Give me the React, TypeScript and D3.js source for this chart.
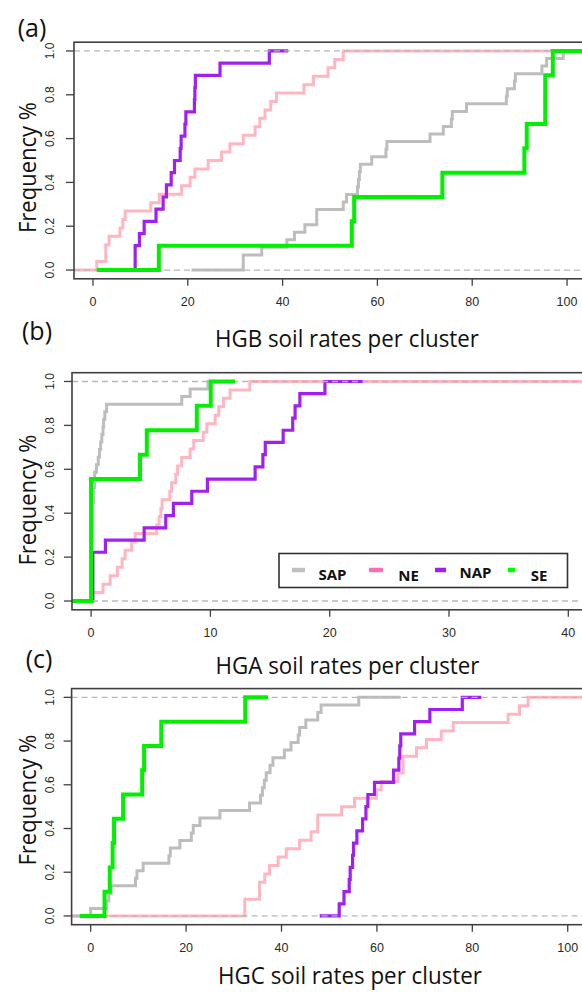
import * as d3 from "d3";

// cluster names, in legend order
const groups = ["SAP", "NE", "NAP", "SE"];

// (a) HGB soil rates per cluster: sample values behind each ECDF
const hgbSAP = [31.7, 31.7, 35.6, 40.9, 42.5, 44.7, 47.2, 47.2, 52.8, 53.5, 55.8, 56.0, 56.2, 56.4, 58.8, 61.8, 62.0, 71.1, 73.9, 75.6, 75.8, 78.8, 87.2, 87.4, 88.9, 89.1, 94.7, 95.7, 99.2];
const hgbNE = [0.8, 2.7, 2.7, 3.4, 5.7, 6.3, 6.8, 12.2, 14.0, 18.7, 20.5, 21.5, 24.3, 27.1, 28.9, 31.7, 34.2, 35.2, 36.3, 37.5, 38.7, 44.5, 46.5, 49.6, 51.0, 52.8];
const hgbNAP = [8.9, 8.9, 9.8, 10.8, 13.3, 14.8, 15.5, 16.5, 17.2, 18.4, 18.6, 19.4, 19.6, 21.4, 21.5, 21.6, 26.8, 37.2];
const hgbSE = [13.9, 54.6, 55.1, 73.7, 91.0, 91.5, 95.4, 95.4, 97.0];
// where each step line starts and stops [lo, hi]
const hgbSpan = [[20.8, 110], [-6, 110], [5, 41.2], [0.8, 110]];

// (b) HGA soil rates per cluster
const hgaSAP = [0, 0, 0, 0, 0, 0, 0, 0, 0.1, 0.1, 0.1, 0.1, 0.1, 0.2, 0.2, 0.3, 0.3, 0.45, 0.6, 0.7, 0.8, 0.9, 1.0, 1.05, 1.15, 1.3, 7.6, 8.3, 9.8];
const hgaNE = [0.1, 1.0, 1.6, 2.2, 2.6, 2.85, 3.4, 3.7, 5.5, 5.7, 5.85, 5.95, 6.6, 6.75, 7.1, 7.25, 7.6, 8.3, 8.6, 9.4, 9.7, 10.4, 10.7, 11.1, 11.65, 13.3];
const hgaNAP = [0.15, 0.15, 0.15, 0.15, 1.2, 4.45, 6.26, 6.9, 8.44, 9.75, 13.75, 14.4, 14.6, 16.1, 16.9, 17.1, 17.5, 19.6];
const hgaSE = [0, 0, 0, 0, 0, 4.1, 4.67, 8.86, 10.03];
const hgaSpan = [[-2, 12], [-2, 50], [-1, 22.8], [-2, 12.07]];

// (c) HGC soil rates per cluster
const hgcSAP = [0.0, 3.3, 3.8, 4.3, 9.4, 9.7, 11.0, 16.4, 16.7, 18.7, 21.1, 21.5, 22.9, 27.1, 33.3, 35.6, 36.0, 36.4, 36.8, 37.6, 38.2, 40.6, 42.0, 43.5, 43.8, 45.1, 47.6, 48.3, 56.2];
const hgcNE = [32.3, 32.3, 35.4, 35.4, 36.5, 37.5, 39.3, 41.0, 43.8, 46.2, 47.6, 47.6, 52.6, 55.3, 59.9, 60.9, 64.4, 65.5, 65.5, 68.3, 70.4, 73.5, 76.0, 87.5, 89.9, 91.7];
const hgcNAP = [52.1, 53.1, 54.2, 54.4, 54.9, 55.1, 55.8, 57.0, 57.7, 58.1, 59.5, 63.5, 64.6, 64.8, 65.0, 67.9, 71.1, 77.9];
const hgcSE = [2.9, 4.0, 4.6, 4.9, 6.8, 10.8, 11.2, 14.8, 32.4];
const hgcSpan = [[-6, 65], [-6, 110], [48, 81.9], [-2.3, 37.2]];

const ticks100 = [0, 20, 40, 60, 80, 100];
const ticks40 = [0, 10, 20, 30, 40];
const yTicks = [0, 0.2, 0.4, 0.6, 0.8, 1.0];

const lineColors = ["#bdbdbd", "#ffb6c1", "#a020f0", "#00f000"];
const legendColors = ["#c0c0c0", "#ff6eb4", "#a020f0", "#00ff00"];
const lineWidths = [3, 3, 3.2, 4];
// drawing order: NE, SAP, NAP, then the 0/1 guides, then SE on top
const drawOrder = [1, 0, 2];

const labelFont = "'Open Sans', 'Noto Sans', sans-serif";
const tickFont = "'Liberation Sans', Arial, sans-serif";

function ecdfPoints(sample: number[], span: number[]): [number, number][] {
  const xs = [...sample].sort(d3.ascending);
  const knots = Array.from(new Set(xs));
  const pts: [number, number][] = [[span[0], 0]];
  knots.forEach((k) => pts.push([k, d3.bisectRight(xs, k) / xs.length]));
  pts.push([span[1], 1]);
  return pts;
}

type PanelProps = {
  id: string;
  letter: string;
  xlabel: string;
  xmax: number;
  xticks: number[];
  series: number[][];
  spans: number[][];
  left: number;
  right: number;
  top: number;
  bottom: number;
  letterPos: [number, number];
  xlabelPos: [number, number];
  ylabelY: number;
};

function Panel(p: PanelProps) {
  const x = d3.scaleLinear().domain([-0.04 * p.xmax, 1.04 * p.xmax]).range([p.left, p.right]);
  const y = d3.scaleLinear().domain([-0.04, 1.04]).range([p.bottom, p.top]);
  const line = d3
    .line<[number, number]>()
    .x((d) => x(d[0]))
    .y((d) => y(d[1]))
    .curve(d3.curveStepAfter);

  const path = (i: number) => (
    <path
      key={i}
      d={line(ecdfPoints(p.series[i], p.spans[i])) ?? ""}
      fill="none"
      stroke={lineColors[i]}
      strokeWidth={lineWidths[i]}
      strokeLinejoin="miter"
    />
  );

  return (
    <g>
      <defs>
        <clipPath id={p.id}>
          <rect x={p.left} y={p.top} width={p.right - p.left} height={p.bottom - p.top} />
        </clipPath>
      </defs>
      <g clipPath={`url(#${p.id})`}>
        {drawOrder.map(path)}
        {[0, 1].map((v) => (
          <line
            key={v}
            x1={p.left}
            x2={p.right}
            y1={y(v)}
            y2={y(v)}
            stroke="#b8b8b8"
            strokeWidth={1.3}
            strokeDasharray="6,4"
          />
        ))}
        {path(3)}
      </g>
      <rect
        x={p.left}
        y={p.top}
        width={p.right - p.left}
        height={p.bottom - p.top}
        fill="none"
        stroke="#404040"
        strokeWidth={1.6}
      />
      {p.xticks.map((t) => (
        <g key={t}>
          <line x1={x(t)} x2={x(t)} y1={p.bottom} y2={p.bottom + 7} stroke="#404040" strokeWidth={1.3} />
          <text
            x={x(t)}
            y={p.bottom + 23}
            textAnchor="middle"
            dominantBaseline="central"
            fontFamily={tickFont}
            fontSize={12.5}
            fill="#2a2a2a"
          >
            {t}
          </text>
        </g>
      ))}
      {yTicks.map((t) => (
        <g key={t}>
          <line x1={p.left - 8} x2={p.left} y1={y(t)} y2={y(t)} stroke="#404040" strokeWidth={1.3} />
          <text
            transform={`translate(50,${y(t)}) rotate(-90)`}
            textAnchor="middle"
            dominantBaseline="central"
            fontFamily={tickFont}
            fontSize={12}
            fill="#2a2a2a"
          >
            {t.toFixed(1)}
          </text>
        </g>
      ))}
      <text
        transform={`translate(27,${p.ylabelY}) rotate(-90)`}
        textAnchor="middle"
        dominantBaseline="central"
        fontFamily={labelFont}
        fontSize={23}
        textLength={131}
        lengthAdjust="spacingAndGlyphs"
        fill="#111"
      >
        Frequency %
      </text>
      <text
        x={p.xlabelPos[0]}
        y={p.xlabelPos[1]}
        textAnchor="middle"
        dominantBaseline="central"
        fontFamily={labelFont}
        fontSize={23}
        textLength={264}
        lengthAdjust="spacingAndGlyphs"
        fill="#111"
      >
        {p.xlabel}
      </text>
      <text
        x={p.letterPos[0]}
        y={p.letterPos[1]}
        textAnchor="middle"
        dominantBaseline="central"
        fontFamily={labelFont}
        fontSize={25}
        fill="#111"
      >
        {p.letter}
      </text>
    </g>
  );
}

function Legend() {
  const lineX = [[292, 305], [369, 383], [435, 446], [508, 515]];
  const textX = [332.5, 408.5, 475.5, 539];
  const textY = [573.5, 574.5, 571.5, 574.5];
  return (
    <g>
      <rect x={279} y={553.5} width={288.5} height={34} fill="#fff" stroke="#333" strokeWidth={1.6} />
      {groups.map((g, i) => (
        <g key={g}>
          <line x1={lineX[i][0]} x2={lineX[i][1]} y1={570} y2={570} stroke={legendColors[i]} strokeWidth={4.5} />
          <text
            x={textX[i]}
            y={textY[i]}
            textAnchor="middle"
            dominantBaseline="central"
            fontFamily={labelFont}
            fontWeight="bold"
            fontSize={15}
            fill="#111"
          >
            {g}
          </text>
        </g>
      ))}
    </g>
  );
}

export default function App() {
  return (
    <svg
      width={582}
      height={992}
      style={{ position: "absolute", left: 0, top: 0, background: "#fff" }}
    >
      <rect width={582} height={992} fill="#fff" />
      <Panel
        id="clipA"
        letter="(a)"
        xlabel="HGB soil rates per cluster"
        xmax={100}
        xticks={ticks100}
        series={[hgbSAP, hgbNE, hgbNAP, hgbSE]}
        spans={hgbSpan}
        left={74}
        right={586}
        top={42.2}
        bottom={278.8}
        letterPos={[32, 27]}
        xlabelPos={[347, 338]}
        ylabelY={167.5}
      />
      <Panel
        id="clipB"
        letter="(b)"
        xlabel="HGA soil rates per cluster"
        xmax={40}
        xticks={ticks40}
        series={[hgaSAP, hgaNE, hgaNAP, hgaSE]}
        spans={hgaSpan}
        left={72}
        right={587.4}
        top={372.7}
        bottom={609.8}
        letterPos={[37, 330]}
        xlabelPos={[347.5, 665]}
        ylabelY={500}
      />
      <Legend />
      <Panel
        id="clipC"
        letter="(c)"
        xlabel="HGC soil rates per cluster"
        xmax={100}
        xticks={ticks100}
        series={[hgcSAP, hgcNE, hgcNAP, hgcSE]}
        spans={hgcSpan}
        left={71.6}
        right={586.8}
        top={688.6}
        bottom={924.7}
        letterPos={[39, 658]}
        xlabelPos={[350, 975]}
        ylabelY={800}
      />
    </svg>
  );
}
